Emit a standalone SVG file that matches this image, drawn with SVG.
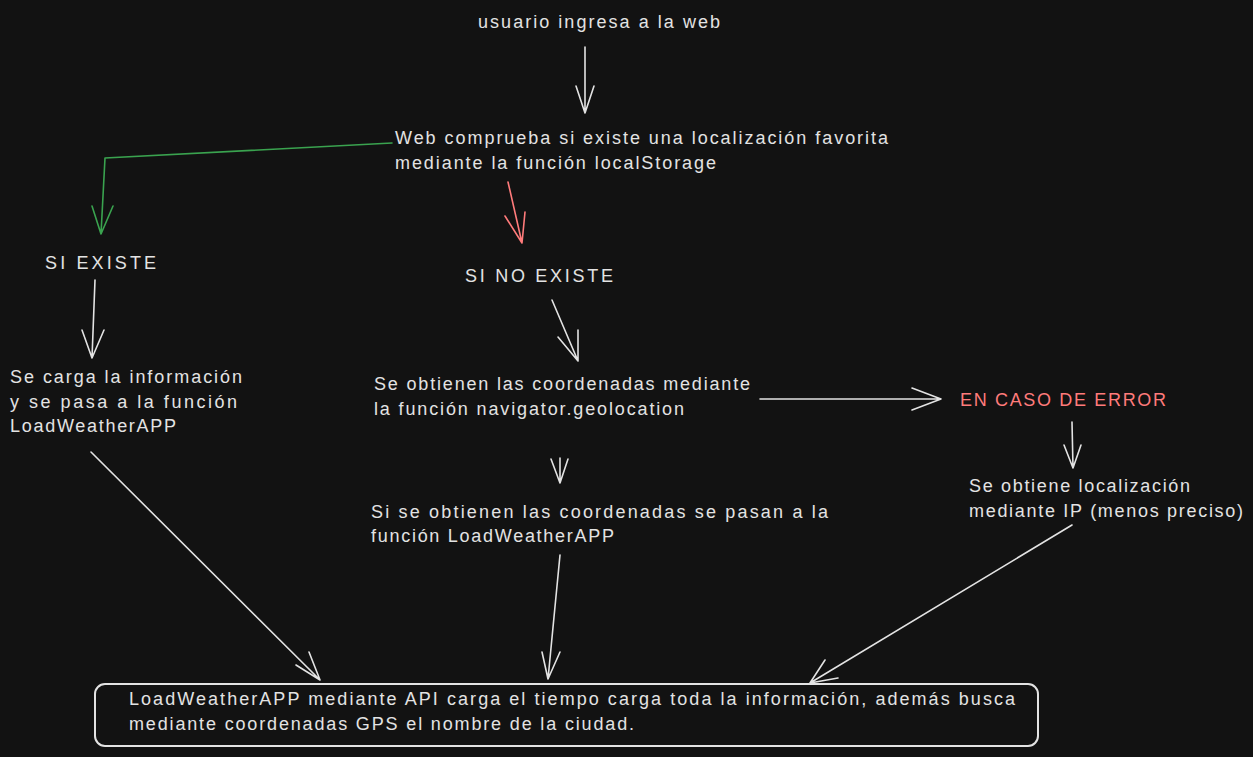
<svg xmlns="http://www.w3.org/2000/svg" width="1253" height="757" viewBox="0 0 1253 757">
<style>
.t{font-family:"Liberation Sans","DejaVu Sans",sans-serif;font-size:18px;fill:#e3e3e3}
.r{fill:#ff7b7b}
.c{fill:none;stroke:#e3e3e3;stroke-width:1.6;stroke-linecap:round;stroke-linejoin:round}
.g{stroke:#3aa34f}
.rc{stroke:#ff7b7b}
</style>
<rect width="1253" height="757" fill="#121212"/>
<g id="n1"><text class="t" x="478" y="28" textLength="242">usuario ingresa a la web</text></g>
<g id="n2"><text class="t" x="395" y="144" textLength="493">Web comprueba si existe una localización favorita</text><text class="t" x="395" y="169" textLength="321">mediante la función localStorage</text></g>
<g id="n3"><text class="t" x="45" y="269" textLength="111">SI EXISTE</text></g>
<g id="n4"><text class="t" x="10" y="383" textLength="232">Se carga la información</text><text class="t" x="10" y="408" textLength="227">y se pasa a la función</text><text class="t" x="10" y="432" textLength="166">LoadWeatherAPP</text></g>
<g id="n5"><text class="t" x="465" y="282" textLength="148">SI NO EXISTE</text></g>
<g id="n6"><text class="t" x="374" y="390" textLength="376">Se obtienen las coordenadas mediante</text><text class="t" x="374" y="415" textLength="310">la función navigator.geolocation</text></g>
<g id="n7"><text class="t r" x="960" y="406" textLength="206">EN CASO DE ERROR</text></g>
<g id="n8"><text class="t" x="969" y="492" textLength="221">Se obtiene localización</text><text class="t" x="969" y="517" textLength="274">mediante IP (menos preciso)</text></g>
<g id="n9"><text class="t" x="371" y="518" textLength="457">Si se obtienen las coordenadas se pasan a la</text><text class="t" x="371" y="542" textLength="243">función LoadWeatherAPP</text></g>
<g id="n10"><rect x="95" y="684" width="943" height="62" rx="10" fill="none" stroke="#e3e3e3" stroke-width="2"/><text class="t" x="129" y="705" textLength="886">LoadWeatherAPP mediante API carga el tiempo carga toda la información, además busca</text><text class="t" x="129" y="730" textLength="505">mediante coordenadas GPS el nombre de la ciudad.</text></g>
<g id="connectors">
<path class="c" d="M585 47 L585 113 M576 86 L585 113 L594 86"/>
<path class="c g" d="M392 143 L105 158 L101 234 M92 206 L101 234 L113 206"/>
<path class="c rc" d="M508 182 L522 243 M505 216 L522 243 L525 212"/>
<path class="c" d="M95 280 L92 358 M82 330 L92 358 L104 330"/>
<path class="c" d="M552 300 L578 361 M558 337 L578 361 L578 330"/>
<path class="c" d="M760 399 L941 399 M912 388 L941 399 L912 410"/>
<path class="c" d="M1072 422 L1073 468 M1064 445 L1073 468 L1081 445"/>
<path class="c" d="M560 458 L560 483 M551 459 L560 483 L568 459"/>
<path class="c" d="M91 452 L320 680 M296 665 L320 680 M309 652 L320 680"/>
<path class="c" d="M560 555 L548 679 M542 652 L548 679 M560 652 L548 679"/>
<path class="c" d="M1072 525 L810 683 M825 660 L810 683 L838 678"/>
</g>
</svg>
